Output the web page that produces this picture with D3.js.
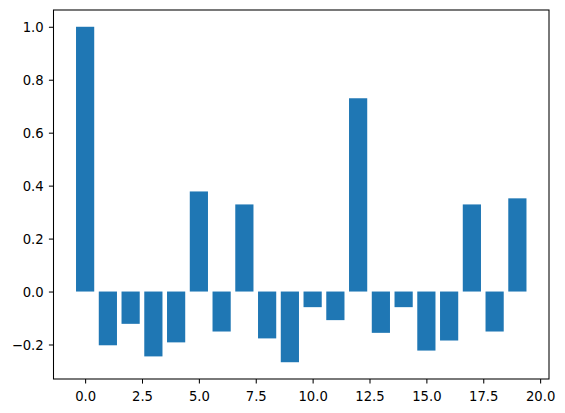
<!DOCTYPE html>
<html><head><meta charset="utf-8">
<script src="https://cdn.jsdelivr.net/npm/d3@7"></script>
<style>body{margin:0;background:#fff;} text{font-family:"DejaVu Sans";}</style>
</head><body>
<svg id="chart" width="565" height="413"></svg>
<script>
const categories = d3.range(20);
const values = [1.0, -0.203, -0.122, -0.245, -0.192, 0.378, -0.151, 0.329, -0.177, -0.267,
                -0.059, -0.108, 0.730, -0.156, -0.059, -0.223, -0.185, 0.329, -0.151, 0.352];
const xTicks = [0, 2.5, 5, 7.5, 10, 12.5, 15, 17.5, 20];
const yTicks = [-0.2, 0, 0.2, 0.4, 0.6, 0.8, 1.0];

const svg = d3.select("#chart");
const L = 53.5, R = 549, T = 10, B = 379;
const barW = 0.8;
const xmin = -barW/2, xmax = categories.length - 1 + barW/2;
const xm = (xmax - xmin) * 0.05;
const x = d3.scaleLinear().domain([xmin - xm, xmax + xm]).range([L, R]);
const ymin = d3.min(values), ymax = d3.max(values);
const ym = (ymax - ymin) * 0.05;
const y = d3.scaleLinear().domain([ymin - ym, ymax + ym]).range([B, T]);

svg.append("g").selectAll("rect").data(values).join("rect")
  .attr("x", (d, i) => x(categories[i] - barW/2))
  .attr("width", (d, i) => x(categories[i] + barW/2) - x(categories[i] - barW/2))
  .attr("y", d => y(Math.max(0, d)))
  .attr("height", d => Math.abs(y(d) - y(0)))
  .attr("fill", "#1f77b4");

const fmtX = d => d.toFixed(1);
const fmtY = d => d.toFixed(1).replace("-", "\u2212");
const xAxis = svg.append("g").attr("transform", `translate(0,${B})`)
  .call(d3.axisBottom(x).tickValues(xTicks).tickFormat(fmtX).tickSizeOuter(0).tickSize(4.6).tickPadding(4.6));
const yAxis = svg.append("g").attr("transform", `translate(${L},0)`)
  .call(d3.axisLeft(y).tickValues(yTicks).tickFormat(fmtY).tickSizeOuter(0).tickSize(4.6).tickPadding(5.2));
[xAxis, yAxis].forEach(a => {
  a.select(".domain").remove();
  a.selectAll("line").attr("stroke", "#000").attr("stroke-width", 1.05);
  a.selectAll("text").attr("font-size", "13.2px").attr("fill", "#000").attr("font-family", "DejaVu Sans");
});
xAxis.selectAll("text").attr("dy", "0.95em");
yAxis.selectAll("text").attr("dy", "0.39em");
svg.append("rect").attr("x", L).attr("y", T).attr("width", R - L).attr("height", B - T)
  .attr("fill", "none").attr("stroke", "#000").attr("stroke-width", 1.05);
</script>
</body></html>
